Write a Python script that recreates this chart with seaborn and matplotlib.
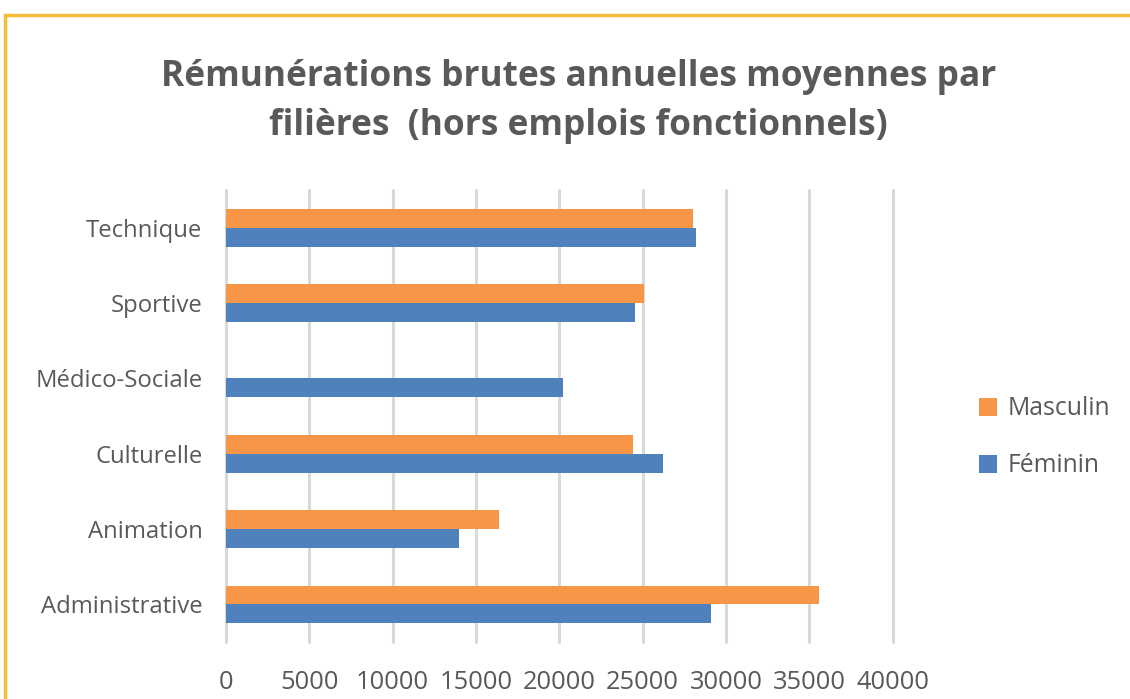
import matplotlib
matplotlib.use("Agg")
import matplotlib.pyplot as plt
import seaborn as sns
import pandas as pd
import numpy as np
from matplotlib.patches import Rectangle

categories = ["Technique", "Sportive", "Médico-Sociale", "Culturelle", "Animation", "Administrative"]
masculin = [28000, 25100, np.nan, 24400, 16400, 35600]
feminin = [28200, 24550, 20200, 26200, 14000, 29100]
series_names = ["Masculin", "Féminin"]
x_ticks = [0, 5000, 10000, 15000, 20000, 25000, 30000, 35000, 40000]
title = "Rémunérations brutes annuelles moyennes par\nfilières  (hors emplois fonctionnels)"

df = pd.DataFrame({
    "cat": categories * 2,
    "val": masculin + feminin,
    "sexe": [series_names[0]] * len(categories) + [series_names[1]] * len(categories),
})

sns.set_theme(style="white")
plt.rcParams["font.family"] = ["Open Sans", "DejaVu Sans"]

gray = "#595959"
fig = plt.figure(figsize=(11.3, 6.99), dpi=100)
ax = fig.add_axes([0.2, 0.0815, 0.59, 0.6465])

sns.barplot(data=df, y="cat", x="val", hue="sexe", order=categories,
            hue_order=series_names, palette=["#F79646", "#4F81BD"],
            width=0.5, saturation=1, ax=ax, orient="h", linewidth=0)

ax.set_xlim(0, 40000)
ax.set_xticks(x_ticks)
ax.set_xticklabels([str(t) for t in x_ticks])
ax.set_ylim(5.5, -0.5)
ax.xaxis.grid(True, color="#D9D9D9", linewidth=2.2)
for gl in ax.get_xgridlines():
    gl.set_clip_on(False)
ax.set_axisbelow(True)
for s in ax.spines.values():
    s.set_visible(False)
ax.tick_params(axis="x", length=0, pad=20, labelsize=18.4, labelcolor=gray)
ax.tick_params(axis="y", length=0, pad=17, labelsize=17.2, labelcolor=gray)
ax.set_xlabel("")
ax.set_ylabel("")

handles, labels = ax.get_legend_handles_labels()
ax.legend(handles, labels, loc="center left", bbox_to_anchor=(1.096, 0.453),
          frameon=False, fontsize=17.8, labelcolor=gray, handlelength=0.75,
          handleheight=0.75, labelspacing=1.3, handletextpad=0.4)

fig.text(0.512, 0.855, title, ha="center", va="center", fontsize=25.4,
         fontweight="bold", color=gray, linespacing=1.5)

fig.patches.append(Rectangle((5 / 1130, -0.05), 1.2, 1 - 15 / 699 + 0.05,
                             transform=fig.transFigure, fill=False,
                             edgecolor="#F5BD3A", linewidth=2.5))

fig.savefig("out.png", dpi=100, facecolor="white")
